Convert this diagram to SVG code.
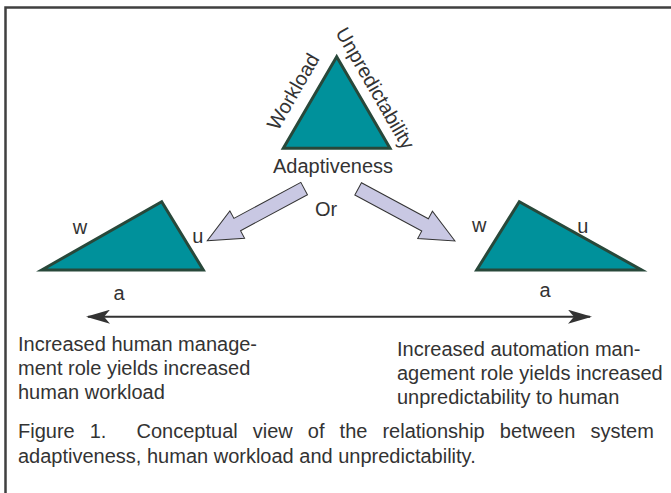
<svg xmlns="http://www.w3.org/2000/svg" width="671" height="493" viewBox="0 0 671 493">
  <defs>
    <style>
      .txt { font-family: "Liberation Sans", Arial, sans-serif; font-size: 20px; fill: #333333; }
      .tri { fill: #00919B; stroke: #28483A; stroke-width: 3; stroke-linejoin: miter; }
      .big-arrow { fill: #C9C8E3; stroke: #333333; stroke-width: 1; stroke-linejoin: miter; }
      .axis { stroke: #333333; stroke-width: 2; fill: none; }
      .frame { stroke: #404040; stroke-width: 2.5; fill: none; }
    </style>
    <marker id="head" viewBox="0 0 24 14" refX="22" refY="7" markerWidth="24" markerHeight="14" markerUnits="userSpaceOnUse" orient="auto-start-reverse">
      <path d="M0,0 L24,7 L0,14 L6,7 Z" fill="#333333"/>
    </marker>
    <!-- wide block arrow pointing along +x, tip at origin -->
    <polygon id="blockArrow" class="big-arrow" points="0,0 -34,-15.5 -34,-7 -110,-7 -110,7 -34,7 -34,15.5"/>
  </defs>

  <rect width="671" height="493" fill="#ffffff"/>
  <path class="frame" d="M5.5,493 V7.5 H671"/>

  <!-- top triangle with side labels -->
  <g id="node-top">
    <polygon class="tri" points="336.7,56.7 390,148.3 283.3,148.3"/>
    <text class="txt" text-anchor="middle" transform="translate(299,95) rotate(-60)">Workload</text>
    <text class="txt" text-anchor="middle" transform="translate(369.3,91.6) rotate(60)">Unpredictability</text>
    <text class="txt" x="333" y="173" text-anchor="middle">Adaptiveness</text>
  </g>

  <!-- left triangle -->
  <g id="node-left">
    <polygon class="tri" points="41.7,270 161.7,201.7 203.3,270"/>
    <text class="txt" x="80" y="234" text-anchor="middle">w</text>
    <text class="txt" x="197.7" y="243" text-anchor="middle">u</text>
    <text class="txt" x="119" y="300" text-anchor="middle">a</text>
  </g>

  <!-- right triangle -->
  <g id="node-right">
    <polygon class="tri" points="476.7,270 519.3,201.7 641.7,270"/>
    <text class="txt" x="479.3" y="232" text-anchor="middle">w</text>
    <text class="txt" x="582.7" y="233" text-anchor="middle">u</text>
    <text class="txt" x="545" y="297" text-anchor="middle">a</text>
  </g>

  <!-- connectors -->
  <g id="connectors">
    <use href="#blockArrow" transform="translate(207.3,240.7) rotate(151.7)"/>
    <use href="#blockArrow" transform="translate(455,241) rotate(28.3)"/>
    <text class="txt" x="315" y="216">Or</text>
    <line class="axis" x1="88" y1="316.7" x2="590" y2="316.7" marker-start="url(#head)" marker-end="url(#head)"/>
  </g>

  <!-- descriptions under the axis -->
  <g id="note-left">
    <text class="txt" x="18" y="351">Increased human manage-</text>
    <text class="txt" x="18" y="375">ment role yields increased</text>
    <text class="txt" x="18" y="399">human workload</text>
  </g>
  <g id="note-right">
    <text class="txt" x="397" y="356">Increased automation man-</text>
    <text class="txt" x="397" y="380">agement role yields increased</text>
    <text class="txt" x="397" y="404">unpredictability to human</text>
  </g>

  <!-- caption, first line justified through word spacing -->
  <g id="caption">
    <text class="txt" x="18" y="438" word-spacing="9.5" xml:space="preserve">Figure 1.  Conceptual view of the relationship between system</text>
    <text class="txt" x="18" y="463">adaptiveness, human workload and unpredictability.</text>
  </g>
</svg>
